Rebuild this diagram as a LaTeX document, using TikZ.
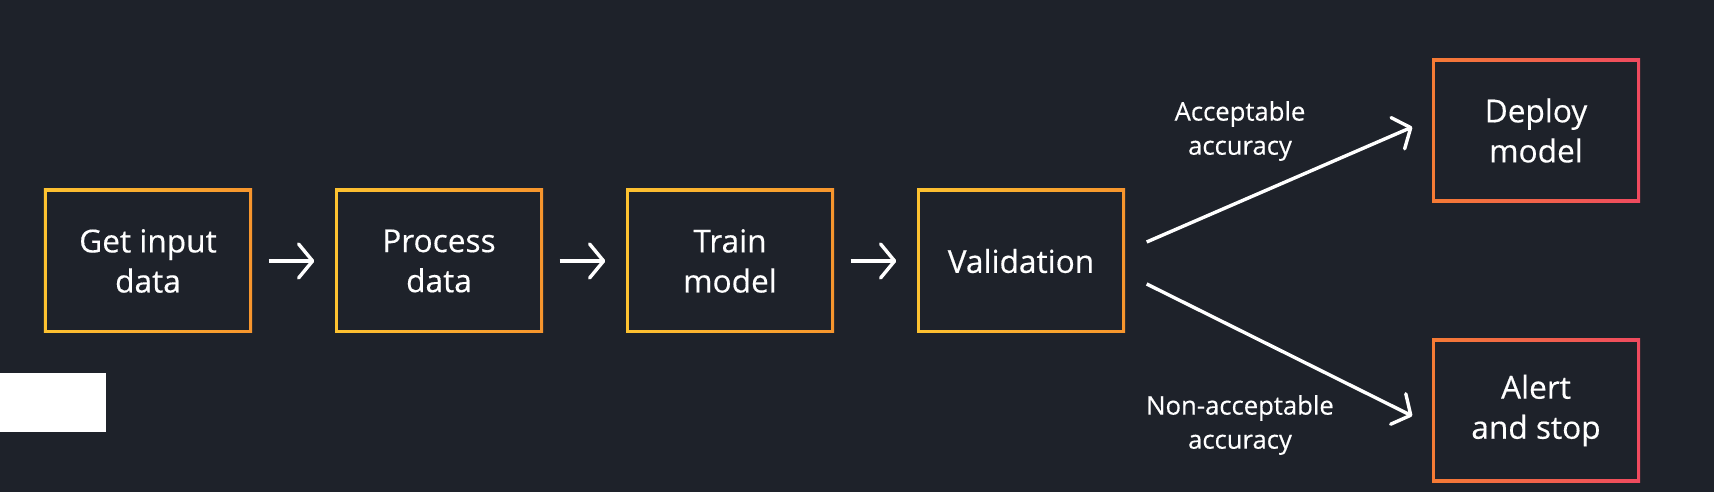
\documentclass[tikz,border=0pt]{standalone}
\usepackage{fontspec}
\setmainfont{Open Sans}[UprightFeatures={FakeBold=0.35}]
\usetikzlibrary{arrows.meta}
\definecolor{bgdark}{HTML}{1E222A}
\definecolor{amberl}{HTML}{FDC230}
\definecolor{amberr}{HTML}{F7952D}
\definecolor{coral}{HTML}{F57B35}
\definecolor{rosered}{HTML}{EF4A5F}
\begin{document}
\begin{tikzpicture}[x=1mm,y=1mm]
\tikzstyle{every node}+=[inner sep=0pt, text=white, align=center]
\tikzstyle{framed}=[minimum width=20.8mm, minimum height=14.4mm, font=\fontsize{9}{11.4}\selectfont,
  path picture={\fill[bgdark] ([shift={(0.34,0.34)}]path picture bounding box.south west) rectangle ([shift={(-0.34,-0.34)}]path picture bounding box.north east);}]
\tikzstyle{stage}=[framed, left color=amberl, right color=amberr]
\tikzstyle{outcome}=[framed, left color=coral, right color=rosered]
\tikzstyle{note}=[font=\fontsize{7.3}{9.7}\selectfont]
\tikzstyle{flow}=[white, line width=0.34mm, -{Straight Barb[length=1.4mm, width=3.4mm, round]}]
\fill [bgdark] (0,0) rectangle (171.4,-49.2);
\fill [white] (0,-37.3) rectangle (10.6,-43.2);
\node [stage] (getdata) at (14.8,-26.1) {Get input\\data};
\node [stage] (procdata) at (43.9,-26.1) {Process\\data};
\node [stage] (train) at (73.0,-26.1) {Train\\model};
\node [stage] (valid) at (102.1,-26.1) {Validation};
\node [outcome] (deploy) at (153.6,-13.05) {Deploy\\model};
\node [outcome] (alert) at (153.6,-41.05) {Alert\\and stop};
\draw [flow, shorten <=1.6mm, shorten >=2mm] (getdata) -- (procdata);
\draw [flow, shorten <=1.6mm, shorten >=2mm] (procdata) -- (train);
\draw [flow, shorten <=1.6mm, shorten >=2mm] (train) -- (valid);
\draw [flow] ([shift={(2.1,1.9)}]valid.east) -- ([shift={(-1.9,0.35)}]deploy.west);
\draw [flow] ([shift={(2.1,-2.3)}]valid.east) -- ([shift={(-1.9,-0.55)}]alert.west);
\node [note] (acclabel) at (124,-13.1) {Acceptable\\accuracy};
\node [note] (nonacclabel) at (124,-42.5) {Non-acceptable\\accuracy};
\end{tikzpicture}
\end{document}
